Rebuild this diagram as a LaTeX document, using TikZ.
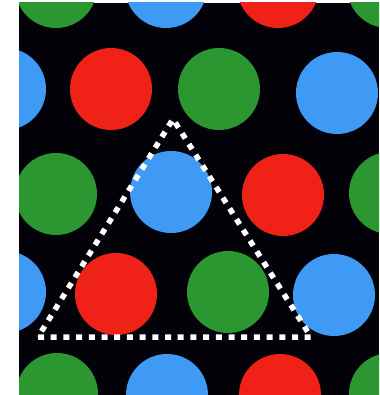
\documentclass[tikz,border=0pt]{standalone}
\definecolor{dotred}{RGB}{240,34,24}
\definecolor{dotgreen}{RGB}{44,150,48}
\definecolor{dotblue}{RGB}{62,154,245}
\definecolor{bg}{RGB}{2,2,8}
\tikzset{
  dotr/.style={fill=dotred},
  dotg/.style={fill=dotgreen},
  dotb/.style={fill=dotblue},
  tri/.style={draw=white, line width=5.5pt, dash pattern=on 6pt off 6.7pt, line join=miter}
}
\begin{document}
\begin{tikzpicture}[x=1pt,y=-1pt]
\useasboundingbox (0,0) rectangle (379,395);
\fill[white] (0,0) rectangle (379,395);
\begin{scope}
\clip (19,3) rectangle (379,395);
\fill[bg] (19,3) rectangle (379,395);
% row 1
\fill[dotg] (56,-13) circle (41);
\fill[dotb] (166,-13) circle (41);
\fill[dotr] (278,-13) circle (41);
\fill[dotg] (388,-13) circle (41);
% row 2
\fill[dotb] (5,89) circle (41);
\fill[dotr] (111,89) circle (41);
\fill[dotg] (219,89) circle (41);
\fill[dotb] (337,93) circle (41);
% row 3
\fill[dotg] (56,194) circle (41);
\fill[dotb] (171,192) circle (41);
\fill[dotr] (283,195) circle (41);
\fill[dotg] (390,193) circle (41);
% row 4
\fill[dotb] (5,292) circle (41);
\fill[dotr] (116,294) circle (41);
\fill[dotg] (228,292) circle (41);
\fill[dotb] (334,295) circle (41);
% row 5
\fill[dotg] (57,394) circle (41);
\fill[dotb] (167,395) circle (41);
\fill[dotr] (280,395) circle (41);
\fill[dotg] (390,394) circle (41);
\end{scope}
\coordinate (top) at (173,119);
\coordinate (bl) at (38,337);
\coordinate (br) at (311,337);
\draw[tri] (bl) -- (br) -- (top) -- cycle;
\end{tikzpicture}
\end{document}
